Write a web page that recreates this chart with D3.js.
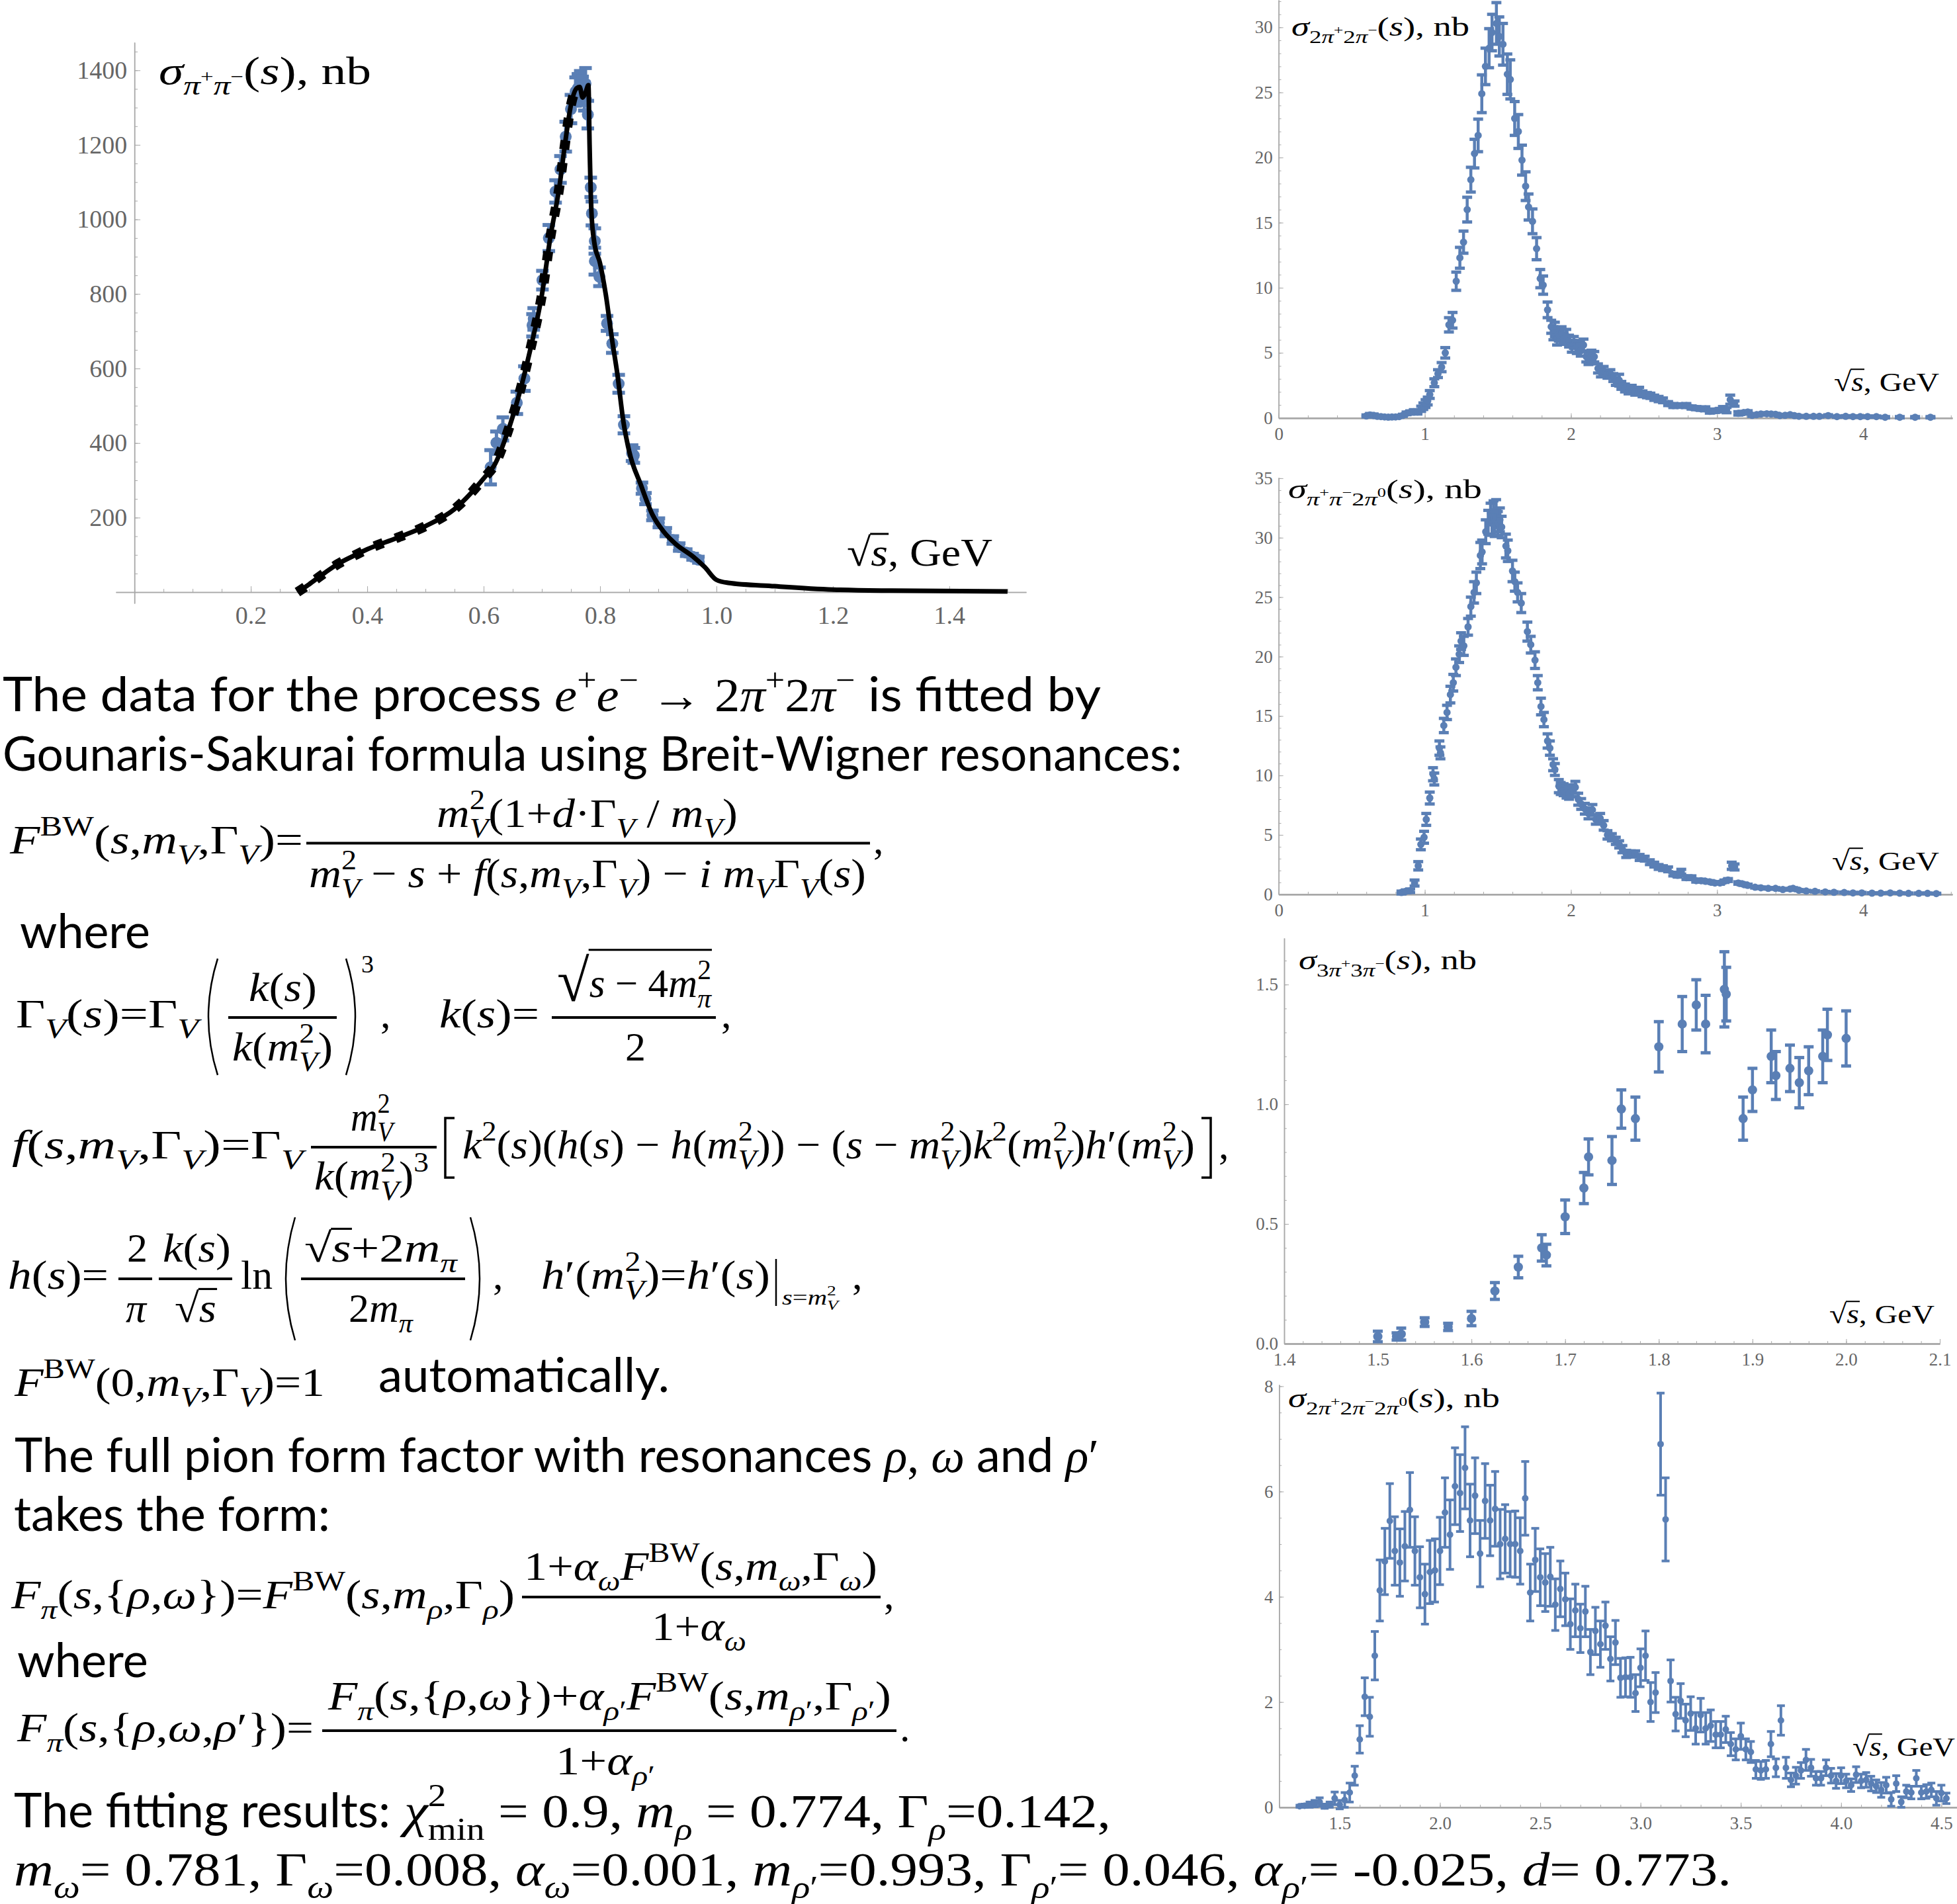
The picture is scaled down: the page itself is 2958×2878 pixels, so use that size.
<!DOCTYPE html>
<html><head><meta charset="utf-8">
<script src="https://cdnjs.cloudflare.com/ajax/libs/d3/7.8.5/d3.min.js"></script>
<style>html,body{margin:0;padding:0;background:#fff}svg{display:block}text{white-space:pre}</style>
</head><body><svg id="c" width="2958" height="2878"></svg>
<script>
// ---- data: rows are [sqrt(s), sigma, error] ----
const rowsPiPi=[[.612,335,46],[.622,401,30],[.633,438,31],[.657,508,30],[.670,573,33],[.684,716,30],[.686,733,29],[.701,837,25],[.712,950,35],[.7236,1075,30],[.732,1134,36],[.741,1222,40],[.75,1296,38],[.758,1343,38],[.762,1352,38],[.766,1360,38],[.77,1345,38],[.773,1330,38],[.775,1364,42],[.779,1281,37],[.784,1086,26],[.786,1016,32],[.791,942,34],[.791,888,36],[.799,846,25],[.812,721,20],[.821,667,25],[.832,559,24],[.841,449,23],[.855,373,21],[.858,367,20],[.872,279,15],[.878,251,15],[.89,206,13],[.901,186,12],[.913,161,11],[.925,140,10],[.936,121,10],[.948,106,9],[.959,95,8],[.969,87,8]];
const fitX=[.28,.30,.32,.35,.38,.40,.45,.50,.55,.60,.62,.64,.66,.68,.70,.715,.73,.74,.75,.76,.765,.77,.775,.78,.782,.785,.79,.80,.81,.82,.83,.84,.85,.87,.89,.91,.93,.96,.98,1.0,1.02,1.1,1.2,1.3,1.5];
const fitY=[0,21,44,76,100,115,145,177,223,305,345,424,525,650,797,956,1086,1205,1307,1352,1355,1327,1340,1360,1200,1024,939,882,797,684,582,458,378,288,208,161,129,95,67,33,25,16,7,4,2];
const rows2p2m=[[.60,.15,.08],[.625,.22,.12],[.65,.18,.12],[.675,.12,.06],[.70,.1,.05],[.725,.08,.04],[.75,.06,.04],[.775,.07,.04],[.80,.08,.05],[.825,.1,.05],[.85,.2,.08],[.875,.35,.1],[.90,.42,.12],[.925,.48,.15],[.95,.45,.15],[.975,.7,.2],[.99,.9,.25],[1.005,1.1,.3],[1.02,1.3,.3],[1.034,1.8,.3],[1.065,2.7,.3],[1.09,3.4,.3],[1.115,3.9,.35],[1.14,5.0,.4],[1.165,7.15,.55],[1.19,7.5,.6],[1.215,10.5,.7],[1.24,12.3,.8],[1.265,13.5,.85],[1.29,16,.95],[1.315,18.3,.95],[1.34,20.3,1.1],[1.365,21.7,1.25],[1.39,24.9,1.45],[1.415,27,1.4],[1.44,28.4,1.5],[1.46,29.6,1.4],[1.49,30.3,1.6],[1.51,29.3,1.5],[1.535,28.7,1.6],[1.565,26.4,1.55],[1.585,26,1.5],[1.615,23,1.3],[1.64,22,1.3],[1.665,19.8,1.15],[1.69,17.8,1.1],[1.71,16.2,1],[1.737,15.1,.95],[1.765,13,.85],[1.79,10.7,.7],[1.81,10.2,.7],[1.84,8.3,.6],[1.865,7,.5],[1.88,6.5,.5],[1.89,6.8,.55],[1.905,6.1,.5],[1.917,6.4,.5],[1.936,6.5,.5],[1.95,6.1,.45],[1.968,6.3,.5],[1.987,5.9,.45],[2.006,5.5,.45],[2.02,5.8,.45],[2.04,5.4,.45],[2.05,5.5,.45],[2.067,5.2,.45],[2.086,5.6,.45],[2.105,4.7,.4],[2.12,4.5,.4],[2.14,4.8,.4],[2.16,4.7,.4],[2.185,3.8,.35],[2.205,3.5,.35],[2.224,3.6,.35],[2.25,3.35,.3],[2.27,3.4,.3],[2.29,3.1,.3],[2.307,2.8,.3],[2.33,2.9,.45],[2.345,2.5,.3],[2.37,2.3,.3],[2.394,2.15,.3],[2.416,2.2,.3],[2.44,2,.25],[2.467,2.1,.25],[2.49,1.85,.22],[2.52,1.75,.2],[2.544,1.7,.2],[2.57,1.55,.2],[2.6,1.45,.2],[2.63,1.35,.18],[2.665,1.1,.15],[2.7,.95,.15],[2.73,.95,.13],[2.76,.95,.13],[2.79,.95,.15],[2.825,.8,.12],[2.857,.75,.12],[2.89,.7,.12],[2.92,.7,.15],[2.95,.5,.13],[2.985,.55,.13],[3.02,.6,.13],[3.04,.7,.17],[3.065,.6,.2],[3.09,1.4,.35],[3.12,1.1,.2],[3.145,.35,.13],[3.18,.4,.1],[3.21,.45,.1],[3.24,.2,.08],[3.27,.25,.08],[3.3,.3,.08],[3.34,.32,.08],[3.37,.3,.08],[3.4,.28,.07],[3.43,.18,.07],[3.465,.2,.07],[3.5,.25,.07],[3.53,.17,.06],[3.56,.13,.05],[3.61,.12,.05],[3.66,.12,.05],[3.7,.12,.05],[3.76,.18,.06],[3.82,.1,.05],[3.88,.12,.05],[3.93,.1,.05],[3.98,.1,.05],[4.03,.1,.05],[4.09,.1,.05],[4.15,.05,.05],[4.25,.05,.05],[4.355,.05,.05],[4.46,.05,.05]];
const rows2p2n=[[.84,.15,.12],[.87,.25,.12],[.90,.3,.15],[.93,.95,.25],[.955,2.4,.35],[.973,4.2,.45],[.995,4.8,.5],[1.01,6.3,.5],[1.034,8.1,.5],[1.056,10.1,.55],[1.065,9.7,.5],[1.1,12.3,.6],[1.107,11.9,.5],[1.13,14.2,.6],[1.152,15.3,.6],[1.175,16.8,.7],[1.195,17.8,.7],[1.213,19.1,.7],[1.235,20.2,.7],[1.248,21.3,.7],[1.267,20.9,.8],[1.296,22.5,.7],[1.315,24.2,.8],[1.337,25.4,.9],[1.353,26.2,.9],[1.38,28.5,1.1],[1.392,28.8,1],[1.417,30.5,1],[1.434,31.3,1],[1.45,32,.9],[1.46,31.2,1],[1.47,32.2,.9],[1.478,31,.9],[1.488,32.3,.9],[1.5,31.2,1],[1.514,31.5,1],[1.526,30.9,.9],[1.555,29.3,1],[1.568,28.9,.9],[1.6,27.2,.9],[1.616,26.3,.8],[1.635,25.4,.8],[1.66,24.5,.8],[1.702,22.1,.8],[1.725,21,.7],[1.754,19.7,.7],[1.773,17.8,.6],[1.795,15.8,.7],[1.815,14.7,.6],[1.84,12.9,.6],[1.856,12.3,.6],[1.878,10.9,.5],[1.89,10.5,.5],[1.917,9.1,.55],[1.93,8.9,.5],[1.95,8.8,.5],[1.97,8.6,.5],[1.987,8.5,.5],[2.01,8.7,.5],[2.03,9,.5],[2.05,8,.5],[2.07,7.6,.45],[2.095,7.2,.45],[2.12,6.8,.45],[2.147,7.1,.45],[2.17,6.3,.4],[2.2,6.4,.4],[2.224,5.8,.4],[2.25,5,.35],[2.28,4.8,.3],[2.307,4.5,.3],[2.33,4.2,.3],[2.352,3.8,.3],[2.378,3.4,.3],[2.41,3.4,.25],[2.44,3.4,.25],[2.47,3.1,.25],[2.505,3,.2],[2.54,2.7,.2],[2.57,2.5,.2],[2.6,2.3,.2],[2.63,2.2,.2],[2.665,2.1,.2],[2.7,1.7,.15],[2.73,1.6,.15],[2.755,1.9,.2],[2.79,1.4,.15],[2.825,1.4,.15],[2.857,1.15,.12],[2.89,1.15,.12],[2.92,1.1,.1],[2.95,1.05,.1],[2.985,.95,.1],[3.02,.95,.1],[3.05,1.1,.1],[3.075,1.2,.12],[3.1,2.4,.3],[3.12,2.3,.25],[3.145,.95,.1],[3.18,.85,.1],[3.21,.75,.1],[3.26,.6,.07],[3.3,.55,.07],[3.35,.5,.06],[3.4,.5,.06],[3.45,.4,.05],[3.5,.45,.05],[3.52,.5,.06],[3.56,.35,.05],[3.61,.28,.05],[3.67,.25,.05],[3.74,.2,.04],[3.8,.17,.04],[3.87,.15,.04],[3.93,.12,.04],[3.99,.12,.04],[4.06,.1,.03],[4.12,.1,.03],[4.185,.12,.03],[4.25,.1,.03],[4.31,.08,.03],[4.38,.08,.03],[4.44,.08,.03],[4.5,.06,.03]];
const rows3p3m=[[1.5,.03,.022],[1.52,.03,.015],[1.525,.04,.025],[1.55,.09,.018],[1.575,.07,.015],[1.6,.105,.03],[1.625,.22,.035],[1.65,.32,.045],[1.675,.40,.055],[1.68,.37,.045],[1.7,.53,.07],[1.72,.65,.065],[1.725,.78,.075],[1.75,.765,.1],[1.76,.98,.08],[1.775,.94,.09],[1.8,1.24,.105],[1.825,1.335,.115],[1.84,1.415,.105],[1.85,1.335,.12],[1.87,1.48,.157],[1.872,1.46,.112],[1.89,.94,.09],[1.9,1.06,.09],[1.92,1.2,.11],[1.925,1.12,.1],[1.94,1.15,.097],[1.95,1.09,.105],[1.96,1.14,.1],[1.975,1.2,.11],[1.98,1.29,.107],[2.0,1.275,.115]];
const rows2p2m2n=[[1.30,.02,.02],[1.325,.03,.03],[1.35,.05,.05],[1.375,.07,.06],[1.40,.10,.08],[1.425,.02,.04],[1.45,.05,.05],[1.475,.17,.12],[1.50,.05,.08],[1.525,.14,.14],[1.55,.28,.18],[1.575,.6,.18],[1.60,1.29,.26],[1.625,2.1,.36],[1.65,1.72,.37],[1.675,2.88,.46],[1.70,4.12,.58],[1.725,4.67,.63],[1.75,5.44,.71],[1.775,4.87,.65],[1.80,4.65,.64],[1.825,4.96,.66],[1.85,5.65,.71],[1.875,4.87,.65],[1.90,4.37,.58],[1.925,4.05,.57],[1.95,4.47,.6],[1.975,4.5,.6],[2.0,4.87,.64],[2.025,5.6,.66],[2.05,5.18,.66],[2.075,6.1,.73],[2.10,5.97,.73],[2.125,6.45,.78],[2.15,5.45,.69],[2.175,5.92,.72],[2.20,4.82,.63],[2.225,5.82,.71],[2.25,5.45,.67],[2.275,5.67,.71],[2.30,5.0,.66],[2.325,5.1,.65],[2.35,5.0,.62],[2.375,5.0,.63],[2.40,4.87,.63],[2.425,5.87,.7],[2.45,4.08,.54],[2.475,4.7,.6],[2.50,4.37,.54],[2.525,4.27,.55],[2.55,4.38,.56],[2.575,3.85,.49],[2.60,4.15,.53],[2.625,3.95,.5],[2.65,3.48,.48],[2.675,3.74,.5],[2.70,3.4,.46],[2.725,3.72,.48],[2.75,2.95,.43],[2.775,3.35,.45],[2.80,3.1,.44],[2.825,3.45,.45],[2.85,2.82,.42],[2.875,3.13,.42],[2.90,2.46,.37],[2.925,2.47,.37],[2.95,2.47,.38],[2.975,2.17,.35],[3.0,2.65,.36],[3.025,2.88,.47],[3.05,2.0,.37],[3.075,2.18,.38],[3.10,6.9,.97],[3.125,5.47,.79],[3.15,2.4,.4],[3.175,1.77,.32],[3.20,2.02,.33],[3.225,1.65,.31],[3.25,1.78,.32],[3.275,1.5,.3],[3.30,1.75,.32],[3.325,1.5,.3],[3.35,1.55,.3],[3.375,1.38,.25],[3.40,1.38,.25],[3.425,1.48,.25],[3.45,1.2,.22],[3.475,1.1,.2],[3.50,1.35,.25],[3.525,1.1,.2],[3.55,1.05,.2],[3.575,.72,.17],[3.60,.7,.17],[3.625,.72,.17],[3.65,1.2,.24],[3.675,.75,.17],[3.70,1.65,.28],[3.725,.75,.2],[3.75,.52,.13],[3.775,.6,.16],[3.80,.7,.15],[3.825,.9,.2],[3.85,.75,.16],[3.875,.55,.13],[3.90,.55,.13],[3.925,.75,.15],[3.95,.6,.14],[3.975,.5,.14],[4.0,.6,.15],[4.025,.5,.13],[4.05,.42,.12],[4.075,.62,.15],[4.10,.5,.13],[4.125,.52,.14],[4.15,.45,.14],[4.175,.4,.12],[4.2,.33,.14],[4.225,.42,.15],[4.25,.15,.13],[4.275,.45,.15],[4.30,.1,.1],[4.325,.3,.12],[4.35,.28,.12],[4.375,.55,.15],[4.40,.28,.12],[4.425,.3,.13],[4.45,.33,.13],[4.475,.17,.13],[4.50,.27,.15],[4.525,.17,.1]];
const panelPiPi={rows:rowsPiPi,xDom:[-.032,1.532],xR:[175,1551],yDom:[-30,1475],yR:[912,64],xT:[.2,.4,.6,.8,1,1.2,1.4],yT:[200,400,600,800,1000,1200,1400],xM:.05,yM:50,fs:38,tl:9,pad:11,padX:21,fmtX:'.1f',fmtY:'d',ly:[240,127,60,561,"σ_{π^{+}π^{−}}(s), \\r{nb}"],lx:[1280,855,60,1500],cap:19,capW:6,r:9,sw:5,axisW:1.5};
const panel2p2m={rows:rows2p2m,xDom:[0,4.61],xR:[1932.7,2951],yDom:[0,32.1],yR:[631.7,0],xT:[0,1,2,3,4],yT:[0,5,10,15,20,25,30],xM:.2,yM:1,fs:27,tl:7,pad:9,padX:14,fmtX:'d',fmtY:'d',ly:[1952,54,41,2221,"σ_{2π^{+}2π^{−}}(s), \\r{nb}"],lx:[2772,591,41,2931],cap:15,capW:5,r:5.5,sw:4.5,axisW:2.5};
const panel2p2n={rows:rows2p2n,xDom:[0,4.61],xR:[1932.7,2951],yDom:[0,35.05],yR:[1351.8,722],xT:[0,1,2,3,4],yT:[0,5,10,15,20,25,30,35],xM:.2,yM:1,fs:27,tl:7,pad:9,padX:14,fmtX:'d',fmtY:'d',ly:[1947,753,41,2240,"σ_{π^{+}π^{−}2π^{0}}(s), \\r{nb}"],lx:[2769,1315,41,2931],cap:15,capW:5,r:5.5,sw:4.5,axisW:2.5};
const panel3p3m={rows:rows3p3m,xDom:[1.4,2.1],xR:[1941,2932],yDom:[0,1.694],yR:[2031,1418],xT:[1.4,1.5,1.6,1.7,1.8,1.9,2.0,2.1],yT:[0,.5,1,1.5],xM:.02,yM:.1,fs:27,tl:7,pad:9,padX:14,fmtX:'.1f',fmtY:'.1f',ly:[1963,1465,41,2232,"σ_{3π^{+}3π^{−}}(s), \\r{nb}"],lx:[2765,2000,41,2924],cap:15,capW:5,r:7,sw:4.5,axisW:2.5};
const panel2p2m2n={rows:rows2p2m2n,xDom:[1.198,4.578],xR:[1933.4,2958],yDom:[0,8.03],yR:[2731.8,2093],xT:[1.5,2,2.5,3,3.5,4,4.5],yT:[0,2,4,6,8],xM:.1,yM:.5,fs:27,tl:7,pad:9,padX:14,fmtX:'.1f',fmtY:'d',ly:[1947,2127,41,2267,"σ_{2π^{+}2π^{−}2π^{0}}(s), \\r{nb}"],lx:[2800,2654,41,2955],cap:12,capW:4,r:5,sw:4,axisW:2.5};

const BLUE='#5a7fb5',GREY='#a8a8a8',TXT='#666';
const SERIF='"Liberation Serif",serif',BODY='Lato,sans-serif';
const svg=d3.select('#c');

// ---- tiny math text layout -----
function piece(g,s,x,y,size,italic,font,fill){
  const t=g.append('text').attr('x',x).attr('y',y).attr('font-size',size).attr('font-family',font||SERIF)
    .attr('font-style',italic?'italic':'normal').attr('fill',fill||'#000').text(s);
  return t.node().getComputedTextLength();
}
function closeBrace(s,i){let d=1;while(i<s.length){if(s[i]=='{')d++;else if(s[i]=='}'){d--;if(!d)return i;}i++;}return s.length;}
function layout(g,s,x,y,size,fill){
  let i=0,run='',stackX=null,stackW=0;
  const flush=()=>{ if(!run)return; let cur='',it=null;
    const out=()=>{if(cur){x+=piece(g,cur,x,y,size,it,null,fill);cur='';}};
    for(const c of run){const ci=/[A-Za-zα-ωχ]/.test(c);const cls=c==' '?it:ci;if(cls!==it){out();it=cls;}cur+=c;}
    out();run='';};
  while(i<s.length){
    const c=s[i];
    if((c=='^'||c=='_')&&s[i+1]=='{'){flush();
      const e=closeBrace(s,i+2),inner=s.slice(i+2,e);
      const sz=size*.68, dy=c=='^'?-size*.44:size*.26;
      const startX=(stackX!==null)?stackX:x;
      const nx=layout(g,inner,startX,y+dy,sz,fill);
      const w=nx-startX;
      if(stackX!==null){x=startX+Math.max(stackW,w);stackX=null;}
      else if(s[e+1]=='^'||s[e+1]=='_'){stackX=startX;stackW=w;}
      else x=nx;
      i=e+1;continue;}
    if(c=='\\'){flush();const k=s[i+1];const e=closeBrace(s,i+3),inner=s.slice(i+3,e);
      if(k=='r'){x+=piece(g,inner,x,y,size,false,null,fill);}
      else if(k=='b'){x+=piece(g,inner,x,y,size,false,BODY,fill);}
      else if(k=='q'||k=='Q'){ // radical with a bar over its contents
        const big=k=='Q'?1.45:1, rs=size*big;
        const rw=piece(g,'√',x,y+(big-1)*size*.22,rs,false,null,fill);
        const nx=layout(g,inner,x+rw,y,size,fill);
        const by=y-(k=='Q'?1.15:.80)*size;
        g.append('line').attr('x1',x+rw-1).attr('x2',nx+1).attr('y1',by).attr('y2',by).attr('stroke',fill||'#000').attr('stroke-width',Math.max(1.5,size*.05));
        x=nx;}
      i=e+1;continue;}
    run+=c;i++;
  }
  flush();return x;
}
function M(x,y,size,s,end){
  const g=svg.append('g');const nx=layout(g,s,x,y,size);
  if(end)g.attr('transform',`translate(${x},0) scale(${(end-x)/(nx-x)},1) translate(${-x},0)`);
  return g;
}
function bar(x1,x2,y,w){svg.append('line').attr('x1',x1).attr('x2',x2).attr('y1',y).attr('y2',y).attr('stroke','#000').attr('stroke-width',w||4);}
function paren(x,y1,y2,dir){const p=d3.path();p.moveTo(x+dir*16,y1);p.quadraticCurveTo(x-dir*12,(y1+y2)/2,x+dir*16,y2);
  svg.append('path').attr('d',p.toString()).attr('fill','none').attr('stroke','#000').attr('stroke-width',2.5);}
function bracket(x,y1,y2,dir){const p=d3.path();p.moveTo(x+dir*14,y1);p.lineTo(x,y1);p.lineTo(x,y2);p.lineTo(x+dir*14,y2);
  svg.append('path').attr('d',p.toString()).attr('fill','none').attr('stroke','#000').attr('stroke-width',3.5);}

// ---- charts ----
function seq(a,b,st){const r=[];for(let i=Math.ceil(a/st-1e-9);i*st<=b+1e-9;i++)r.push(+(i*st).toFixed(6));return r;}
function draw(p){
  const x=d3.scaleLinear().domain(p.xDom).range(p.xR),y=d3.scaleLinear().domain(p.yDom).range(p.yR);
  const zeroX=Math.max(0,p.xDom[0]);
  const g=svg.append('g');
  const ax=g.append('g').attr('transform',`translate(0,${y(0)})`).call(d3.axisBottom(x).tickValues(p.xT).tickFormat(d3.format(p.fmtX)).tickSize(-p.tl).tickSizeOuter(0).tickPadding(p.padX));
  const axm=g.append('g').attr('transform',`translate(0,${y(0)})`).call(d3.axisBottom(x).tickValues(seq(p.xDom[0],p.xDom[1],p.xM)).tickFormat('').tickSize(-p.tl*.55).tickSizeOuter(0));
  const ay=g.append('g').attr('transform',`translate(${x(zeroX)},0)`).call(d3.axisLeft(y).tickValues(p.yT).tickFormat(d3.format(p.fmtY)).tickSize(-p.tl).tickSizeOuter(0).tickPadding(p.pad));
  const aym=g.append('g').attr('transform',`translate(${x(zeroX)},0)`).call(d3.axisLeft(y).tickValues(seq(0,p.yDom[1],p.yM)).tickFormat('').tickSize(-p.tl*.55).tickSizeOuter(0));
  [ax,axm,ay,aym].forEach((a,i)=>{a.selectAll('.domain').attr('stroke',GREY).attr('stroke-width',(i==0||i==1)?p.axisW:1.5);a.selectAll('line').attr('stroke',GREY).attr('stroke-width',1);
    a.selectAll('text').attr('font-family',SERIF).attr('font-size',p.fs).attr('fill',TXT);});
  const pts=g.append('g').selectAll('g').data(p.rows).join('g').attr('stroke',BLUE).attr('fill',BLUE);
  pts.append('line').attr('x1',d=>x(d[0])).attr('x2',d=>x(d[0])).attr('y1',d=>y(d[1]-d[2])).attr('y2',d=>y(d[1]+d[2])).attr('stroke-width',p.sw);
  [-1,1].forEach(s=>pts.append('line').attr('x1',d=>x(d[0])-p.cap/2).attr('x2',d=>x(d[0])+p.cap/2).attr('y1',d=>y(d[1]+s*d[2])).attr('y2',d=>y(d[1]+s*d[2])).attr('stroke-width',p.capW));
  pts.append('circle').attr('cx',d=>x(d[0])).attr('cy',d=>y(d[1])).attr('r',p.r).attr('stroke','none');
  if(p.fit){
    const fit=d3.range(fitX.length).map(i=>[fitX[i],fitY[i]]);
    const ln=d3.line().x(d=>x(d[0])).y(d=>y(d[1])).curve(d3.curveMonotoneX);
    g.append('path').attr('d',ln(fit.filter(d=>d[0]<=.765))).attr('fill','none').attr('stroke','#000').attr('stroke-width',15).attr('stroke-dasharray','14 20');
    g.append('path').attr('d',ln(fit)).attr('fill','none').attr('stroke','#000').attr('stroke-width',7).attr('stroke-linejoin','round');
  }
  M(p.ly[0],p.ly[1],p.ly[2],p.ly[4],p.ly[3]);
  M(p.lx[0],p.lx[1],p.lx[2],"\\q{s}, \\r{GeV}",p.lx[3]);
}
panelPiPi.fit=true;
[panelPiPi,panel2p2m,panel2p2n,panel3p3m,panel2p2m2n].forEach(draw);

// ---- body text and formulas ----
const B=71,F=62,T=72;
M(4,1075,B,"\\b{The data for the process }e^{+}e^{−} → 2π^{+}2π^{−}\\b{ is fitted by}",1664);
M(4,1165,B,"\\b{Gounaris-Sakurai formula using Breit-Wigner resonances:}",1787);
M(15,1290,F,"F^{\\r{BW}}(s,m_{V},Γ_{V})=",458);
bar(463,1315,1274.5);
M(660,1250,F,"m_{V}^{2}(1+d·Γ_{V} / m_{V})",1115);
M(467,1341,F,"m_{V}^{2} − s + f(s,m_{V},Γ_{V}) − i m_{V}Γ_{V}(s)",1309);
M(1320,1290,F,",");
M(30,1433,B,"\\b{where}",227);
M(24,1553,F,"Γ_{V}(s)=Γ_{V}",300);
paren(313,1449,1625,1);paren(539,1449,1625,-1);
bar(345,509,1538);M(376,1513,F,"k(s)",479);M(351,1603,F,"k(m_{V}^{2})",503);
M(546,1470,38,"3");M(575,1553,F,",");
M(664,1553,F,"k(s)=",815);bar(834,1082,1538);
M(842,1507,F,"\\Q{s − 4m_{π}^{2}}",1075);M(945,1603,F,"2");M(1090,1553,F,",");
M(18,1751,F,"f(s,m_{V},Γ_{V})=Γ_{V}",458);bar(470,660,1734);M(530,1709,F,"m_{V}^{2}",594);M(475,1798,F,"k(m_{V}^{2})^{3}",648);
bracket(673,1690,1780,1);
M(699,1751,F,"k^{2}(s)(h(s) − h(m_{V}^{2})) − (s − m_{V}^{2})k^{2}(m_{V}^{2})h′(m_{V}^{2})",1806);
bracket(1830,1690,1780,-1);M(1842,1751,F,",");
M(12,1948,F,"h(s)=",164);bar(179,230,1933);M(192,1907,F,"2");M(190,1998,F,"π");
bar(240,351,1933);M(246,1907,F,"k(s)",349);M(264,1998,F,"\\q{s}",327);
M(364,1948,F,"\\r{ln}",412);paren(430,1840,2026,1);paren(727,1840,2026,-1);
bar(455,703,1933);M(460,1907,F,"\\q{s}+2m_{π}",691);M(527,1998,F,"2m_{π}",624);M(745,1948,F,",");
M(818,1948,F,"h′(m_{V}^{2})=h′(s)",1164);
svg.append('line').attr('x1',1173).attr('x2',1173).attr('y1',1903).attr('y2',1974).attr('stroke','#000').attr('stroke-width',2.5);
M(1182,1972,32,"s=m_{V}^{2}",1267);M(1288,1948,F,",");
M(22,2110,F,"F^{\\r{BW}}(0,m_{V},Γ_{V})=1",491);
M(572,2104,B,"\\b{automatically.}",1012);
M(22,2225,B,"\\b{The full pion form factor with resonances }ρ, ω \\b{and }ρ′",1661);
M(21,2314,B,"\\b{takes the form:}",499);
M(17,2431,F,"F_{π}(s,{ρ,ω})=F^{\\r{BW}}(s,m_{ρ},Γ_{ρ})",778);bar(789,1331,2414);
M(792,2388,F,"1+α_{ω}F^{\\r{BW}}(s,m_{ω},Γ_{ω})",1326);M(985,2479,F,"1+α_{ω}",1128);M(1336,2431,F,",");
M(26,2535,B,"\\b{where}",224);
M(26,2632,F,"F_{π}(s,{ρ,ω,ρ′})=",474);bar(487,1355,2616);
M(496,2584,F,"F_{π}(s,{ρ,ω})+α_{ρ′}F^{\\r{BW}}(s,m_{ρ′},Γ_{ρ′})",1347);M(840,2682,F,"1+α_{ρ′}",990);M(1360,2632,F,".");
M(21,2762,B,"\\b{The fitting results:}",590);
M(611,2762,T,"χ_{\\r{min}}^{2}\\r{ = 0.9,} m_{ρ}\\r{ = 0.774,} Γ_{ρ}\\r{=0.142,}",1679);
M(21,2850,T,"m_{ω}\\r{= 0.781,} Γ_{ω}\\r{=0.008,} α_{ω}\\r{=0.001,} m_{ρ′}\\r{=0.993,} Γ_{ρ′}\\r{= 0.046,} α_{ρ′}\\r{= -0.025,} d\\r{= 0.773.}",2617);
</script></body></html>
